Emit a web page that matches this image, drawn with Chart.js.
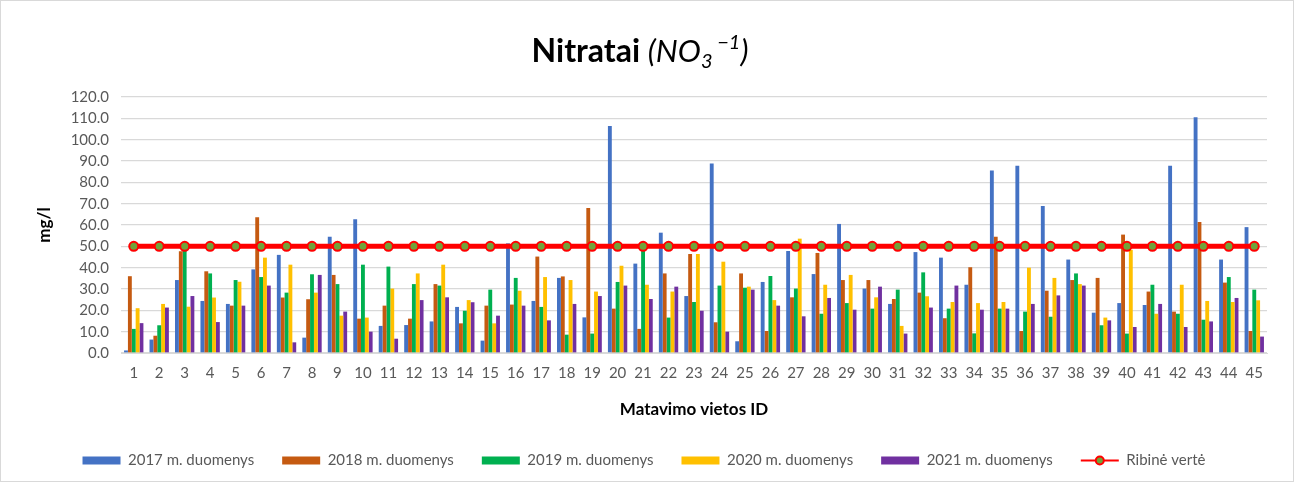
<!DOCTYPE html>
<html>
<head>
<meta charset="utf-8">
<script src="https://cdn.jsdelivr.net/npm/chart.js@4"></script>
<style>
  body { margin: 0; background: #fff; }
  #wrap { width: 1292px; height: 480px; border: 1px solid #d9d9d9; position: relative; }
</style>
</head>
<body>
<div id="wrap"><canvas id="chart"></canvas></div>
<script>
// kategorijos - matavimo vietos
const vietos = [];
for (let i = 1; i <= 45; i++) vietos.push(String(i));

// duomenys nuskaityti nuo paveikslo (mg/l)
const d2017 = [1.2, 6.3, 34.2, 24.4, 23.0, 39.2, 46.0, 7.2, 54.5, 62.7,
  12.7, 13.1, 14.8, 21.6, 5.8, 51.4, 24.4, 35.2, 16.7, 106.4,
  41.9, 56.4, 26.7, 88.8, 5.5, 33.3, 47.8, 37.0, 60.5, 30.2,
  23.0, 47.3, 44.7, 32.0, 85.6, 87.8, 68.9, 43.8, 18.9, 23.4,
  22.5, 87.8, 110.5, 43.8, 59.0];
const d2018 = [36.0, 8.1, 47.7, 38.3, 22.2, 63.6, 26.0, 25.2, 36.6, 16.1,
  22.2, 16.1, 32.3, 13.9, 22.2, 22.7, 45.2, 35.9, 68.0, 20.8,
  11.3, 37.3, 46.4, 14.4, 37.3, 10.3, 26.1, 46.9, 34.2, 34.2,
  25.3, 28.3, 16.3, 40.2, 54.5, 10.3, 29.2, 34.2, 35.2, 55.5,
  28.8, 19.4, 61.4, 33.0, 10.3];
const d2019 = [11.3, 13.0, 48.6, 37.3, 34.2, 35.6, 28.3, 36.9, 32.3, 41.4,
  40.5, 32.3, 31.6, 19.8, 29.7, 35.2, 21.6, 8.6, 9.1, 33.3,
  48.4, 16.6, 23.9, 31.6, 30.6, 36.1, 30.2, 18.4, 23.4, 20.8,
  29.7, 37.8, 20.8, 9.2, 20.8, 19.4, 17.0, 37.3, 13.0, 9.1,
  32.0, 18.4, 15.6, 35.6, 29.7];
const d2020 = [21.0, 23.0, 21.7, 26.0, 33.4, 44.7, 41.4, 28.3, 17.5, 16.6,
  30.2, 37.3, 41.4, 24.8, 13.9, 29.2, 35.6, 34.2, 28.8, 40.9,
  32.0, 28.8, 46.4, 42.8, 31.1, 24.8, 53.6, 32.0, 36.6, 26.1,
  12.7, 26.6, 23.9, 23.4, 23.9, 40.0, 35.2, 32.3, 16.6, 48.4,
  18.4, 32.0, 24.4, 23.9, 24.7];
const d2021 = [14.0, 21.3, 26.7, 14.5, 22.2, 31.6, 5.0, 36.6, 19.4, 10.0,
  6.7, 24.8, 26.1, 23.8, 17.5, 22.2, 15.3, 23.0, 26.7, 31.6,
  25.3, 31.1, 19.8, 10.0, 29.7, 22.2, 17.2, 25.8, 20.3, 31.1,
  9.1, 21.3, 31.6, 20.3, 20.8, 23.0, 27.0, 31.6, 15.3, 12.2,
  23.0, 12.2, 14.8, 25.8, 7.7];
const ribine = vietos.map(() => 50);

const metai = ['2017 m. duomenys', '2018 m. duomenys', '2019 m. duomenys', '2020 m. duomenys', '2021 m. duomenys'];
const spalvos = ['#4472c4', '#c55a11', '#00b050', '#ffc000', '#7030a0'];
const serijos = [d2017, d2018, d2019, d2020, d2021];

const pilka = '#595959';
const sriftas = "Lato, 'Open Sans', sans-serif";

// pavadinimas su indeksais
const pavadinimas = {
  id: 'pavadinimas',
  beforeLayout(chart) {
    // legendos aukstis fiksuotas
    const lg = chart.legend;
    if (lg && !lg._pataisyta) {
      const f = lg.fit.bind(lg);
      lg.fit = function () { f(); this.height = 56; };
      lg._pataisyta = true;
    }
  },
  afterDraw(chart) {
    const c = chart.ctx;
    c.save();
    c.fillStyle = '#000';
    c.textBaseline = 'alphabetic';
    const dalys = [
      { t: 'Nitratai ', f: "bold 32px " + sriftas, dy: 0 },
      { t: '(NO', f: "italic 31px " + sriftas, dy: 0 },
      { t: '3', f: "italic 20px " + sriftas, dy: 6 },
      { t: ' \u2212', f: "italic 20px " + sriftas, dy: -13 },
      { t: '1', f: "italic 20px " + sriftas, dy: -13 },
      { t: ')', f: "italic 31px " + sriftas, dy: 0 }
    ];
    let plotis = 0;
    dalys.forEach(d => { c.font = d.f; d.w = c.measureText(d.t).width; plotis += d.w; });
    let x = 639 - plotis / 2;
    const y = 61;
    dalys.forEach(d => {
      c.font = d.f;
      c.fillText(d.t, x, y + d.dy);
      x += d.w;
    });
    c.restore();
  }
};

// apskritimas ant ribines vertes legendos linijos
const legendosTaskas = {
  id: 'legendosTaskas',
  afterDraw(chart) {
    const lg = chart.legend;
    if (!lg || !lg.legendHitBoxes) return;
    const i = lg.legendItems.findIndex(it => it.datasetIndex === 5);
    const hb = lg.legendHitBoxes[i];
    if (!hb) return;
    const c = chart.ctx;
    const bw = chart.options.plugins.legend.labels.pointStyleWidth;
    c.save();
    c.beginPath();
    c.arc(hb.left + bw / 2, hb.top + hb.height / 2, 4, 0, Math.PI * 2);
    c.fillStyle = '#70a33a';
    c.fill();
    c.lineWidth = 2;
    c.strokeStyle = '#ff0000';
    c.stroke();
    c.restore();
  }
};

const datasets = serijos.map((s, i) => ({
  type: 'bar',
  label: metai[i],
  data: s,
  backgroundColor: spalvos[i],
  borderWidth: 0,
  categoryPercentage: 0.76,
  barPercentage: 1.0,
  order: 1
}));
datasets.push({
  type: 'line',
  label: 'Ribinė vertė',
  data: ribine,
  borderColor: '#ff0000',
  backgroundColor: '#ff0000',
  borderWidth: 5,
  pointRadius: 4.5,
  pointStyle: 'circle',
  pointBackgroundColor: '#70a33a',
  pointBorderColor: '#ff0000',
  pointBorderWidth: 2,
  fill: false,
  order: 0
});

const ctx = document.getElementById('chart').getContext('2d');
const chart = new Chart(ctx, {
  data: { labels: vietos, datasets: datasets },
  plugins: [pavadinimas, legendosTaskas],
  options: {
    responsive: true,
    maintainAspectRatio: false,
    animation: false,
    layout: { padding: { top: 96, left: 20, right: 26, bottom: 0 } },
    plugins: {
      title: { display: false },
      tooltip: { enabled: false },
      legend: {
        position: 'bottom',
        labels: {
          usePointStyle: true,
          pointStyleWidth: 38,
          boxHeight: 8,
          padding: 28,
          color: pilka,
          font: { family: sriftas, size: 15 },
          sort: (a, b) => a.datasetIndex - b.datasetIndex,
          generateLabels: ch => {
            const items = Chart.defaults.plugins.legend.labels.generateLabels(ch);
            items.forEach(it => { it.pointStyle = it.datasetIndex === 5 ? 'line' : 'rect'; });
            return items;
          }
        }
      }
    },
    scales: {
      x: {
        grid: { display: false, drawTicks: false },
        border: { color: '#d9d9d9', width: 1 },
        ticks: { color: pilka, padding: 11, font: { family: sriftas, size: 15 }, maxRotation: 0, autoSkip: false },
        title: { display: true, text: 'Matavimo vietos ID', color: '#000', font: { family: sriftas, size: 17, weight: 'bold' }, padding: { top: 0, bottom: 5 } },
        afterFit: s => { s.height = 72; }
      },
      y: {
        min: 0,
        max: 120,
        grid: { color: '#d9d9d9', lineWidth: 1.3, drawTicks: false },
        border: { display: false },
        ticks: { stepSize: 10, color: pilka, padding: 12, font: { family: sriftas, size: 15 }, callback: v => v.toFixed(1) },
        title: { display: true, text: 'mg/l', color: '#000', font: { family: sriftas, size: 17, weight: 'bold' }, padding: { top: 13, bottom: 0 } },
        afterFit: s => { s.width = 100; }
      }
    }
  }
});
</script>
</body>
</html>
